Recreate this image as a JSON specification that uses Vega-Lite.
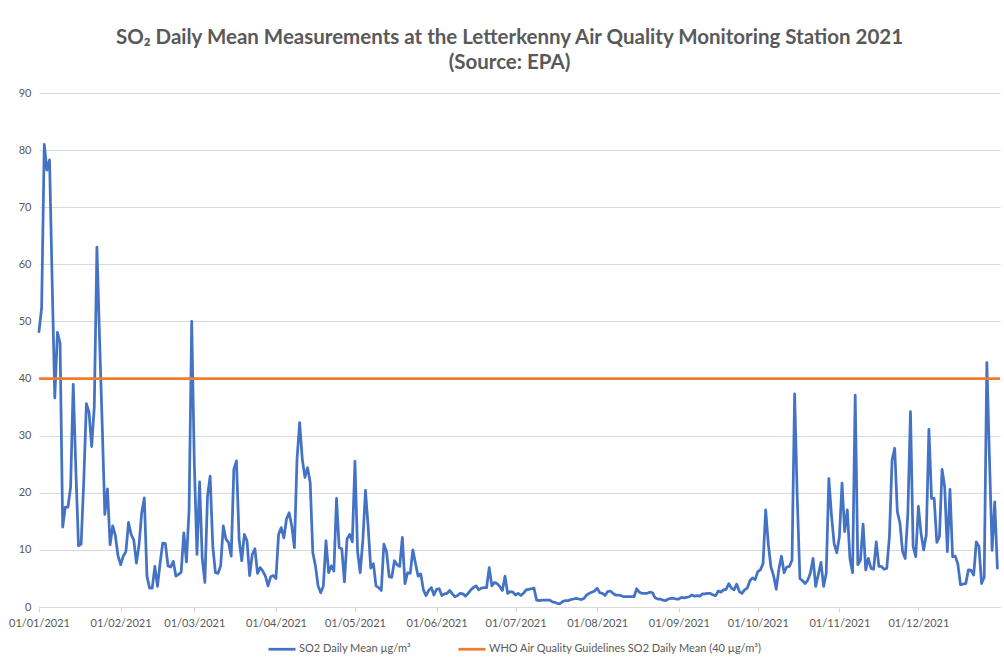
{
"$schema": "https://vega.github.io/schema/vega-lite/v6.json",
"width": 961,
"height": 514,
"autosize": {"type": "none"},
"padding": {"left": 39, "top": 93, "right": 4, "bottom": 61},
"background": "white",
"title": {"text": ["SO₂ Daily Mean Measurements at the Letterkenny Air Quality Monitoring Station 2021", "(Source: EPA)"], "font": "Lato", "fontSize": 20.5, "fontWeight": "bold", "color": "#595959", "anchor": "middle", "frame": "group", "offset": 14, "lineHeight": 25, "dx": -10},
"datasets": {
"so2": [
{"date":"2021-01-01","so2":48.2},{"date":"2021-01-02","so2":52.4},{"date":"2021-01-03","so2":81},{"date":"2021-01-04","so2":76.5},{"date":"2021-01-05","so2":78.3},{"date":"2021-01-06","so2":57},{"date":"2021-01-07","so2":36.6},{"date":"2021-01-08","so2":48.1},{"date":"2021-01-09","so2":46.2},{"date":"2021-01-10","so2":14},{"date":"2021-01-11","so2":17.5},{"date":"2021-01-12","so2":17.5},{"date":"2021-01-13","so2":21},{"date":"2021-01-14","so2":39},{"date":"2021-01-15","so2":24},{"date":"2021-01-16","so2":10.7},{"date":"2021-01-17","so2":11},{"date":"2021-01-18","so2":22},{"date":"2021-01-19","so2":35.6},{"date":"2021-01-20","so2":34.1},{"date":"2021-01-21","so2":28.1},{"date":"2021-01-22","so2":35.1},{"date":"2021-01-23","so2":63},{"date":"2021-01-24","so2":47},{"date":"2021-01-25","so2":32},{"date":"2021-01-26","so2":16.2},{"date":"2021-01-27","so2":20.7},{"date":"2021-01-28","so2":10.9},{"date":"2021-01-29","so2":14.2},{"date":"2021-01-30","so2":12.5},{"date":"2021-01-31","so2":9},
{"date":"2021-02-01","so2":7.4},{"date":"2021-02-02","so2":8.9},{"date":"2021-02-03","so2":9.7},{"date":"2021-02-04","so2":14.8},{"date":"2021-02-05","so2":12.7},{"date":"2021-02-06","so2":11.7},{"date":"2021-02-07","so2":7.7},{"date":"2021-02-08","so2":10.9},{"date":"2021-02-09","so2":16.5},{"date":"2021-02-10","so2":19.1},{"date":"2021-02-11","so2":5.4},{"date":"2021-02-12","so2":3.3},{"date":"2021-02-13","so2":3.3},{"date":"2021-02-14","so2":7.1},{"date":"2021-02-15","so2":3.6},{"date":"2021-02-16","so2":7.7},{"date":"2021-02-17","so2":11.2},{"date":"2021-02-18","so2":11.1},{"date":"2021-02-19","so2":7.2},{"date":"2021-02-20","so2":7},{"date":"2021-02-21","so2":8},{"date":"2021-02-22","so2":5.4},{"date":"2021-02-23","so2":5.7},{"date":"2021-02-24","so2":6.1},{"date":"2021-02-25","so2":13},{"date":"2021-02-26","so2":7.9},{"date":"2021-02-27","so2":17},{"date":"2021-02-28","so2":50},
{"date":"2021-03-01","so2":25},{"date":"2021-03-02","so2":9.2},{"date":"2021-03-03","so2":21.9},{"date":"2021-03-04","so2":8.5},{"date":"2021-03-05","so2":4.3},{"date":"2021-03-06","so2":19.4},{"date":"2021-03-07","so2":22.9},{"date":"2021-03-08","so2":10.7},{"date":"2021-03-09","so2":6},{"date":"2021-03-10","so2":5.9},{"date":"2021-03-11","so2":7.2},{"date":"2021-03-12","so2":14.2},{"date":"2021-03-13","so2":11.9},{"date":"2021-03-14","so2":11.3},{"date":"2021-03-15","so2":8.9},{"date":"2021-03-16","so2":24.1},{"date":"2021-03-17","so2":25.6},{"date":"2021-03-18","so2":11.9},{"date":"2021-03-19","so2":8.1},{"date":"2021-03-20","so2":12.7},{"date":"2021-03-21","so2":11.6},{"date":"2021-03-22","so2":5.5},{"date":"2021-03-23","so2":9.2},{"date":"2021-03-24","so2":10.2},{"date":"2021-03-25","so2":5.9},{"date":"2021-03-26","so2":6.9},{"date":"2021-03-27","so2":6.3},{"date":"2021-03-28","so2":5.4},{"date":"2021-03-29","so2":3.7},{"date":"2021-03-30","so2":5.3},{"date":"2021-03-31","so2":5.5},
{"date":"2021-04-01","so2":5},{"date":"2021-04-02","so2":12.7},{"date":"2021-04-03","so2":13.9},{"date":"2021-04-04","so2":12.1},{"date":"2021-04-05","so2":15.4},{"date":"2021-04-06","so2":16.5},{"date":"2021-04-07","so2":14.2},{"date":"2021-04-08","so2":10.4},{"date":"2021-04-09","so2":25.9},{"date":"2021-04-10","so2":32.3},{"date":"2021-04-11","so2":25.9},{"date":"2021-04-12","so2":22.7},{"date":"2021-04-13","so2":24.4},{"date":"2021-04-14","so2":21.8},{"date":"2021-04-15","so2":9.5},{"date":"2021-04-16","so2":7.2},{"date":"2021-04-17","so2":3.7},{"date":"2021-04-18","so2":2.5},{"date":"2021-04-19","so2":3.7},{"date":"2021-04-20","so2":11.6},{"date":"2021-04-21","so2":6},{"date":"2021-04-22","so2":7.2},{"date":"2021-04-23","so2":6.3},{"date":"2021-04-24","so2":19},{"date":"2021-04-25","so2":10.4},{"date":"2021-04-26","so2":10.2},{"date":"2021-04-27","so2":4.4},{"date":"2021-04-28","so2":11.9},{"date":"2021-04-29","so2":12.7},{"date":"2021-04-30","so2":11.4},
{"date":"2021-05-01","so2":25.5},{"date":"2021-05-02","so2":9.7},{"date":"2021-05-03","so2":6},{"date":"2021-05-04","so2":11.7},{"date":"2021-05-05","so2":20.4},{"date":"2021-05-06","so2":14.1},{"date":"2021-05-07","so2":6.8},{"date":"2021-05-08","so2":7.6},{"date":"2021-05-09","so2":3.7},{"date":"2021-05-10","so2":3.4},{"date":"2021-05-11","so2":2.9},{"date":"2021-05-12","so2":11},{"date":"2021-05-13","so2":9.7},{"date":"2021-05-14","so2":5.3},{"date":"2021-05-15","so2":5.2},{"date":"2021-05-16","so2":8.1},{"date":"2021-05-17","so2":7.4},{"date":"2021-05-18","so2":7.1},{"date":"2021-05-19","so2":12.2},{"date":"2021-05-20","so2":4.1},{"date":"2021-05-21","so2":6},{"date":"2021-05-22","so2":5.9},{"date":"2021-05-23","so2":10},{"date":"2021-05-24","so2":7.6},{"date":"2021-05-25","so2":5.4},{"date":"2021-05-26","so2":5.8},{"date":"2021-05-27","so2":3},{"date":"2021-05-28","so2":2},{"date":"2021-05-29","so2":2.9},{"date":"2021-05-30","so2":3.4},{"date":"2021-05-31","so2":2.1},
{"date":"2021-06-01","so2":3.1},{"date":"2021-06-02","so2":3.2},{"date":"2021-06-03","so2":2},{"date":"2021-06-04","so2":2.3},{"date":"2021-06-05","so2":2.4},{"date":"2021-06-06","so2":2.9},{"date":"2021-06-07","so2":2.3},{"date":"2021-06-08","so2":1.8},{"date":"2021-06-09","so2":2},{"date":"2021-06-10","so2":2.4},{"date":"2021-06-11","so2":2.3},{"date":"2021-06-12","so2":1.9},{"date":"2021-06-13","so2":2.4},{"date":"2021-06-14","so2":3},{"date":"2021-06-15","so2":3.4},{"date":"2021-06-16","so2":3.7},{"date":"2021-06-17","so2":3},{"date":"2021-06-18","so2":3.3},{"date":"2021-06-19","so2":3.4},{"date":"2021-06-20","so2":3.4},{"date":"2021-06-21","so2":6.9},{"date":"2021-06-22","so2":3.7},{"date":"2021-06-23","so2":4.3},{"date":"2021-06-24","so2":4.1},{"date":"2021-06-25","so2":3.6},{"date":"2021-06-26","so2":2.9},{"date":"2021-06-27","so2":5.4},{"date":"2021-06-28","so2":2.4},{"date":"2021-06-29","so2":2.7},{"date":"2021-06-30","so2":2.6},
{"date":"2021-07-01","so2":2.1},{"date":"2021-07-02","so2":2.4},{"date":"2021-07-03","so2":2},{"date":"2021-07-04","so2":2.4},{"date":"2021-07-05","so2":3},{"date":"2021-07-06","so2":3.1},{"date":"2021-07-07","so2":3.2},{"date":"2021-07-08","so2":3.3},{"date":"2021-07-09","so2":1.2},{"date":"2021-07-10","so2":1.1},{"date":"2021-07-11","so2":1.2},{"date":"2021-07-12","so2":1.2},{"date":"2021-07-13","so2":1.2},{"date":"2021-07-14","so2":1.2},{"date":"2021-07-15","so2":0.9},{"date":"2021-07-16","so2":0.8},{"date":"2021-07-17","so2":0.6},{"date":"2021-07-18","so2":0.6},{"date":"2021-07-19","so2":1},{"date":"2021-07-20","so2":1.1},{"date":"2021-07-21","so2":1.1},{"date":"2021-07-22","so2":1.3},{"date":"2021-07-23","so2":1.4},{"date":"2021-07-24","so2":1.5},{"date":"2021-07-25","so2":1.4},{"date":"2021-07-26","so2":1.3},{"date":"2021-07-27","so2":1.5},{"date":"2021-07-28","so2":2.1},{"date":"2021-07-29","so2":2.4},{"date":"2021-07-30","so2":2.6},{"date":"2021-07-31","so2":2.8},
{"date":"2021-08-01","so2":3.3},{"date":"2021-08-02","so2":2.5},{"date":"2021-08-03","so2":2.4},{"date":"2021-08-04","so2":2},{"date":"2021-08-05","so2":2.7},{"date":"2021-08-06","so2":2.8},{"date":"2021-08-07","so2":2.4},{"date":"2021-08-08","so2":2.1},{"date":"2021-08-09","so2":2.1},{"date":"2021-08-10","so2":2},{"date":"2021-08-11","so2":1.8},{"date":"2021-08-12","so2":1.8},{"date":"2021-08-13","so2":1.8},{"date":"2021-08-14","so2":1.8},{"date":"2021-08-15","so2":1.8},{"date":"2021-08-16","so2":3.2},{"date":"2021-08-17","so2":2.6},{"date":"2021-08-18","so2":2.4},{"date":"2021-08-19","so2":2.4},{"date":"2021-08-20","so2":2.4},{"date":"2021-08-21","so2":2.6},{"date":"2021-08-22","so2":2.5},{"date":"2021-08-23","so2":1.6},{"date":"2021-08-24","so2":1.4},{"date":"2021-08-25","so2":1.4},{"date":"2021-08-26","so2":1.2},{"date":"2021-08-27","so2":1.1},{"date":"2021-08-28","so2":1.4},{"date":"2021-08-29","so2":1.5},{"date":"2021-08-30","so2":1.5},{"date":"2021-08-31","so2":1.4},
{"date":"2021-09-01","so2":1.4},{"date":"2021-09-02","so2":1.7},{"date":"2021-09-03","so2":1.6},{"date":"2021-09-04","so2":1.7},{"date":"2021-09-05","so2":1.8},{"date":"2021-09-06","so2":2.1},{"date":"2021-09-07","so2":1.9},{"date":"2021-09-08","so2":2},{"date":"2021-09-09","so2":1.9},{"date":"2021-09-10","so2":2.3},{"date":"2021-09-11","so2":2.3},{"date":"2021-09-12","so2":2.4},{"date":"2021-09-13","so2":2.4},{"date":"2021-09-14","so2":2.1},{"date":"2021-09-15","so2":2},{"date":"2021-09-16","so2":2.8},{"date":"2021-09-17","so2":2.6},{"date":"2021-09-18","so2":3},{"date":"2021-09-19","so2":3.1},{"date":"2021-09-20","so2":4.1},{"date":"2021-09-21","so2":3.3},{"date":"2021-09-22","so2":3},{"date":"2021-09-23","so2":4},{"date":"2021-09-24","so2":2.7},{"date":"2021-09-25","so2":2.4},{"date":"2021-09-26","so2":3},{"date":"2021-09-27","so2":3.3},{"date":"2021-09-28","so2":4.6},{"date":"2021-09-29","so2":5.1},{"date":"2021-09-30","so2":4.8},
{"date":"2021-10-01","so2":6.2},{"date":"2021-10-02","so2":6.5},{"date":"2021-10-03","so2":7.6},{"date":"2021-10-04","so2":17},{"date":"2021-10-05","so2":11},{"date":"2021-10-06","so2":7},{"date":"2021-10-07","so2":5.5},{"date":"2021-10-08","so2":3.1},{"date":"2021-10-09","so2":6.6},{"date":"2021-10-10","so2":8.9},{"date":"2021-10-11","so2":6},{"date":"2021-10-12","so2":7},{"date":"2021-10-13","so2":7.1},{"date":"2021-10-14","so2":8.2},{"date":"2021-10-15","so2":37.3},{"date":"2021-10-16","so2":19},{"date":"2021-10-17","so2":5},{"date":"2021-10-18","so2":4.6},{"date":"2021-10-19","so2":4.1},{"date":"2021-10-20","so2":4.7},{"date":"2021-10-21","so2":6},{"date":"2021-10-22","so2":8.5},{"date":"2021-10-23","so2":3.6},{"date":"2021-10-24","so2":5.7},{"date":"2021-10-25","so2":7.8},{"date":"2021-10-26","so2":3.6},{"date":"2021-10-27","so2":5.9},{"date":"2021-10-28","so2":22.5},{"date":"2021-10-29","so2":16},{"date":"2021-10-30","so2":11.1},{"date":"2021-10-31","so2":9.5},
{"date":"2021-11-01","so2":12.3},{"date":"2021-11-02","so2":21.7},{"date":"2021-11-03","so2":13.2},{"date":"2021-11-04","so2":17},{"date":"2021-11-05","so2":8.5},{"date":"2021-11-06","so2":6},{"date":"2021-11-07","so2":37.1},{"date":"2021-11-08","so2":7.4},{"date":"2021-11-09","so2":8.2},{"date":"2021-11-10","so2":14.5},{"date":"2021-11-11","so2":6.5},{"date":"2021-11-12","so2":8.5},{"date":"2021-11-13","so2":6.8},{"date":"2021-11-14","so2":6.6},{"date":"2021-11-15","so2":11.4},{"date":"2021-11-16","so2":7.1},{"date":"2021-11-17","so2":7.1},{"date":"2021-11-18","so2":6.6},{"date":"2021-11-19","so2":6.8},{"date":"2021-11-20","so2":12.3},{"date":"2021-11-21","so2":25.7},{"date":"2021-11-22","so2":27.8},{"date":"2021-11-23","so2":16.7},{"date":"2021-11-24","so2":14.7},{"date":"2021-11-25","so2":9.7},{"date":"2021-11-26","so2":8.5},{"date":"2021-11-27","so2":16.4},{"date":"2021-11-28","so2":34.2},{"date":"2021-11-29","so2":10.6},{"date":"2021-11-30","so2":8.8},
{"date":"2021-12-01","so2":17.6},{"date":"2021-12-02","so2":12.9},{"date":"2021-12-03","so2":10},{"date":"2021-12-04","so2":12.6},{"date":"2021-12-05","so2":31.1},{"date":"2021-12-06","so2":19},{"date":"2021-12-07","so2":19},{"date":"2021-12-08","so2":11.3},{"date":"2021-12-09","so2":12.3},{"date":"2021-12-10","so2":24.1},{"date":"2021-12-11","so2":21},{"date":"2021-12-12","so2":9.7},{"date":"2021-12-13","so2":20.6},{"date":"2021-12-14","so2":8.8},{"date":"2021-12-15","so2":8.9},{"date":"2021-12-16","so2":7.5},{"date":"2021-12-17","so2":3.9},{"date":"2021-12-18","so2":4},{"date":"2021-12-19","so2":4.1},{"date":"2021-12-20","so2":6.5},{"date":"2021-12-21","so2":6.4},{"date":"2021-12-22","so2":5.6},{"date":"2021-12-23","so2":11.4},{"date":"2021-12-24","so2":10.6},{"date":"2021-12-25","so2":4.1},{"date":"2021-12-26","so2":5.2},{"date":"2021-12-27","so2":42.8},{"date":"2021-12-28","so2":26},{"date":"2021-12-29","so2":9.9},{"date":"2021-12-30","so2":18.4},{"date":"2021-12-31","so2":6.8}
],
"who": [{"limit": 40}]
},
"layer": [
{
"data": {"name": "so2"},
"mark": {"type": "line", "strokeWidth": 2.75, "strokeJoin": "round", "strokeCap": "round"},
"encoding": {
"x": {"field": "date", "type": "temporal",
"scale": {"type": "utc", "domain": [{"year": 2021, "month": 1, "date": 1, "utc": true}, {"year": 2022, "month": 1, "date": 1, "utc": true}]},
"axis": {"title": null, "grid": false, "labelExpr": "utcFormat(datum.value, '%d/%m/%Y')",
"values": [{"year":2021,"month":1,"date":1,"utc":true},{"year":2021,"month":2,"date":1,"utc":true},{"year":2021,"month":3,"date":1,"utc":true},{"year":2021,"month":4,"date":1,"utc":true},{"year":2021,"month":5,"date":1,"utc":true},{"year":2021,"month":6,"date":1,"utc":true},{"year":2021,"month":7,"date":1,"utc":true},{"year":2021,"month":8,"date":1,"utc":true},{"year":2021,"month":9,"date":1,"utc":true},{"year":2021,"month":10,"date":1,"utc":true},{"year":2021,"month":11,"date":1,"utc":true},{"year":2021,"month":12,"date":1,"utc":true}],
"domainColor": "#d9d9d9", "tickColor": "#d9d9d9", "tickSize": 5, "labelPadding": 5, "labelColor": "#595959", "labelFont": "Lato", "labelFontSize": 11, "labelOverlap": false, "labelFlush": false}},
"y": {"field": "so2", "type": "quantitative", "scale": {"domain": [0, 90], "nice": false},
"axis": {"title": null, "values": [0,10,20,30,40,50,60,70,80,90], "domain": false, "ticks": false, "grid": true, "gridColor": "#d9d9d9", "gridWidth": 1, "labelPadding": 8, "labelColor": "#595959", "labelFont": "Lato", "labelFontSize": 11}},
"color": {"datum": "SO2 Daily Mean µg/m³", "type": "nominal",
"scale": {"domain": ["SO2 Daily Mean µg/m³", "WHO Air Quality Guidelines SO2 Daily Mean (40 µg/m³)"], "range": ["#4472C4", "#ED7D31"]},
"legend": {"title": null, "orient": "none", "legendX": 228, "legendY": 541, "direction": "horizontal", "symbolType": "stroke", "symbolStrokeWidth": 2.75, "symbolSize": 729, "labelFont": "Lato", "labelFontSize": 11, "labelColor": "#595959", "labelOffset": 2, "columnPadding": 42, "labelLimit": 400}}
}
},
{
"data": {"name": "who"},
"mark": {"type": "rule", "strokeWidth": 2.75},
"encoding": {
"y": {"field": "limit", "type": "quantitative"},
"color": {"datum": "WHO Air Quality Guidelines SO2 Daily Mean (40 µg/m³)", "type": "nominal"}
}
}
],
"config": {"view": {"stroke": null}, "font": "Lato"}
}
